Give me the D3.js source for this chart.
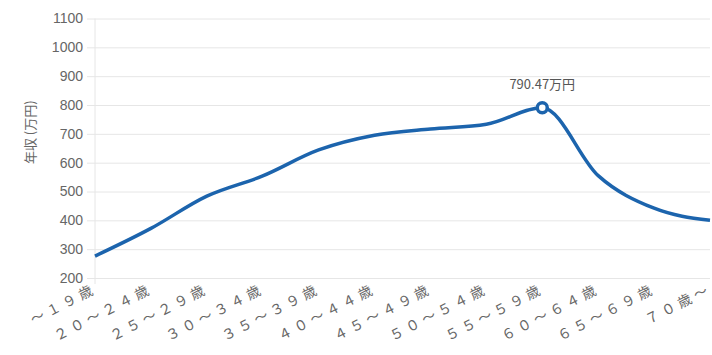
<!DOCTYPE html>
<html>
<head>
<meta charset="utf-8">
<script src="https://cdn.jsdelivr.net/npm/d3@7"></script>
<style>
  body { margin: 0; background: #fff; }
  text { font-family: "Noto Sans CJK JP", "Noto Sans", sans-serif; }
</style>
</head>
<body>
<div id="chart"></div>
<script>
// age groups and average annual income (万円)
const categories = ["～１９歳", "２０～２４歳", "２５～２９歳", "３０～３４歳", "３５～３９歳", "４０～４４歳",
    "４５～４９歳", "５０～５４歳", "５５～５９歳", "６０～６４歳", "６５～６９歳", "７０歳～"];
const incomes = [276, 372, 484, 554, 644, 695, 717, 733, 790.47, 555, 442, 400];
const yTicks = [200, 300, 400, 500, 600, 700, 800, 900, 1000, 1100];
const peakLabel = "790.47万円";
const yTitle = "年収 (万円)";

function makeChart(containerSelector) {
    const width = 712, height = 355;
    const margin = { top: 18.5, right: 2, bottom: 77, left: 95 };
    const innerWidth = width - margin.left - margin.right;
    const innerHeight = height - margin.top - margin.bottom;
    const lineColor = "#1c64ad";
    const labelSpacing = 4;

    const svg = d3.select(containerSelector)
        .append("svg")
        .attr("width", width)
        .attr("height", height);

    const g = svg.append("g")
        .attr("transform", `translate(${margin.left},${margin.top})`);

    const xScale = d3.scalePoint()
        .domain(categories)
        .range([0, innerWidth]);

    const yScale = d3.scaleLinear()
        .domain([200, 1100])
        .range([innerHeight, 0]);

    // horizontal grid + y labels
    const yAxis = g.append("g")
        .call(d3.axisLeft(yScale).tickValues(yTicks).tickFormat(d3.format("d")).tickSize(-innerWidth - 8).tickPadding(4))
        .attr("transform", "translate(-8,0)");
    yAxis.select(".domain").remove();
    yAxis.selectAll(".tick line")
        .attr("x1", 0)
        .attr("x2", innerWidth + 8)
        .attr("stroke", "#e6e6e6");
    yAxis.selectAll("text")
        .attr("fill", "#666")
        .style("font-family", "'Liberation Sans', Arial, sans-serif")
        .style("font-size", "14px");

    // vertical axis line
    g.append("line")
        .attr("x1", 0).attr("x2", 0)
        .attr("y1", 0).attr("y2", innerHeight + 6)
        .attr("stroke", "#e6e6e6");

    // x labels, rotated; spaced glyphs, last glyph without trailing spacing
    const xLabels = g.selectAll(".xlabel")
        .data(categories)
        .enter()
        .append("text")
        .attr("class", "xlabel")
        .attr("transform", d => `translate(${xScale(d) - 1},${innerHeight + 16}) rotate(-27)`)
        .attr("text-anchor", "end")
        .attr("fill", "#666")
        .style("font-size", "14px");
    xLabels.append("tspan")
        .style("letter-spacing", labelSpacing + "px")
        .text(d => d.slice(0, -1));
    xLabels.append("tspan")
        .text(d => d.slice(-1));

    // y title
    svg.append("text")
        .attr("transform", `translate(35,${margin.top + innerHeight / 2 - 16}) rotate(-90)`)
        .attr("text-anchor", "middle")
        .attr("fill", "#666")
        .style("font-size", "13px")
        .text(yTitle);

    // line
    const line = d3.line()
        .x((d, i) => xScale(categories[i]))
        .y(d => yScale(d))
        .curve(d3.curveMonotoneX);

    g.append("path")
        .datum(incomes)
        .attr("d", line)
        .attr("fill", "none")
        .attr("stroke", lineColor)
        .attr("stroke-width", 3.5)
        .attr("stroke-linejoin", "round");

    // peak marker
    const peakIdx = incomes.indexOf(d3.max(incomes));
    const px = xScale(categories[peakIdx]), py = yScale(incomes[peakIdx]);
    g.append("circle")
        .attr("cx", px).attr("cy", py)
        .attr("r", 5)
        .attr("fill", "#fff")
        .attr("stroke", lineColor)
        .attr("stroke-width", 3.5);

    g.append("text")
        .attr("x", px)
        .attr("y", py - 19)
        .attr("text-anchor", "middle")
        .attr("fill", "#555")
        .style("font-size", "13px")
        .text(peakLabel);

    return svg.node();
}

makeChart("#chart");
</script>
</body>
</html>
